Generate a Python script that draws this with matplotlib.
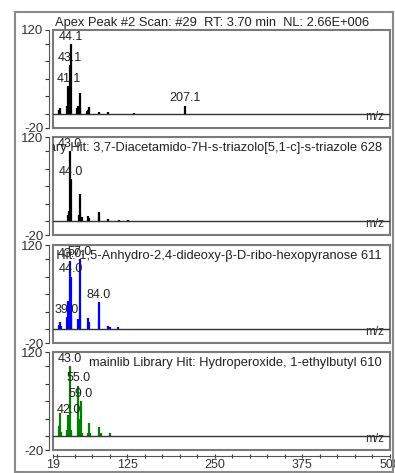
import matplotlib
matplotlib.use('Agg')
import matplotlib.pyplot as plt
from matplotlib.patches import Rectangle
from matplotlib.ticker import FixedLocator

plt.rcParams['font.family'] = ['Liberation Sans', 'DejaVu Sans']

# --- data: m/z and relative abundance for each spectrum ---
scan_mz = [27, 29, 39, 41, 42, 43, 44, 53, 55, 56, 57, 58, 67, 69, 71, 84, 98, 134, 207]
scan_int = [6, 9, 12, 40, 18, 70, 100, 8, 12, 10, 30, 8, 4, 5, 10, 3, 3, 2, 12]
scan_labels = [(41, '41.1'), (43, '43.1'), (44, '44.1'), (207, '207.1')]

hit1_mz = [15, 41, 42, 43, 44, 56, 57, 58, 60, 69, 70, 84, 85, 98, 113, 126]
hit1_int = [6, 8, 15, 100, 60, 8, 10, 38, 6, 7, 4, 13, 5, 3, 2, 2]
hit1_labels = [(43, '43.0'), (44, '44.0')]

hit2_mz = [27, 29, 31, 39, 41, 42, 43, 44, 45, 55, 57, 58, 69, 70, 84, 85, 97, 101, 112]
hit2_int = [6, 10, 5, 17, 40, 30, 97, 75, 20, 15, 100, 20, 16, 10, 38, 12, 4, 3, 3]
hit2_labels = [(39, '39.0'), (43, '43.0'), (44, '44.0'), (57, '57.0'), (84, '84.0')]

hit3_mz = [27, 29, 31, 39, 41, 42, 43, 44, 45, 55, 56, 57, 59, 60, 69, 71, 72, 85, 87, 101]
hit3_int = [15, 33, 6, 8, 30, 27, 100, 5, 8, 72, 10, 25, 50, 5, 5, 18, 4, 13, 4, 5]
hit3_labels = [(42, '42.0'), (43, '43.0'), (55, '55.0'), (59, '59.0')]

headers = [
    'Apex Peak #2 Scan: #29  RT: 3.70 min  NL: 2.66E+006',
    'mainlib Library Hit: 3,7-Diacetamido-7H-s-triazolo[5,1-c]-s-triazole 628',
    'mainlib Library Hit: 1,5-Anhydro-2,4-dideoxy-\u03b2-D-ribo-hexopyranose 611',
    'mainlib Library Hit: Hydroperoxide, 1-ethylbutyl 610',
]
colors = ['black', 'black', '#0000ff', '#008000']
spectra = [(scan_mz, scan_int, scan_labels), (hit1_mz, hit1_int, hit1_labels),
           (hit2_mz, hit2_int, hit2_labels), (hit3_mz, hit3_int, hit3_labels)]

x_ticks = [19, 125, 250, 375, 500]
x_minor = [25, 50, 75, 100, 150, 175, 200, 225, 275, 300, 325, 350, 400, 425, 450, 475]

W, H = 395, 473
fig = plt.figure(figsize=(W / 100, H / 100), dpi=100)

# outer frame
fig.patches.append(Rectangle((15 / W, 1 - 472 / H), 378 / W, 460 / H, transform=fig.transFigure,
                             fill=False, ec='#8a8a8a', lw=1.5))

box_gray = '#7a7a7a'
txt_col = '#222222'
tops = [30, 137, 245, 352]
for i, top in enumerate(tops):
    ax = fig.add_axes([53 / W, 1 - (top + 98) / H, 337 / W, 98 / H])
    mz, inten, labels = spectra[i]
    ax.vlines(mz, 0, inten, color=colors[i], lw=1.6)
    ax.axhline(0, color='#333333', lw=1.0)
    for m, txt in labels:
        ax.annotate(txt, (m, inten[mz.index(m)]), xytext=(0, 1), textcoords='offset points',
                    ha='center', va='bottom', fontsize=9, color=txt_col)
    ax.set_xlim(19, 500)
    ax.set_ylim(-20, 120)

    # panel box
    for s in ['top', 'right', 'bottom']:
        ax.spines[s].set_visible(False)
    ax.add_patch(Rectangle((0, 0), 1, 1, transform=ax.transAxes, fill=False,
                           ec=box_gray, lw=1.5, clip_on=False))
    ax.spines['left'].set_position(('outward', 3))
    ax.spines['left'].set_color('#555555')
    ax.set_yticks([-20, 120])
    ax.set_yticklabels(['-20', '120'])
    ax.yaxis.set_minor_locator(FixedLocator([0, 25, 50, 75, 100]))
    ax.tick_params(axis='y', which='both', labelsize=9.5, length=3, width=0.8,
                   colors='#333333', pad=1)

    # m/z tag sitting on the baseline
    ax.annotate('m/z', (1, 0), xycoords=('axes fraction', 'data'), xytext=(-4, -2),
                textcoords='offset points', ha='right', va='center', fontsize=8.5,
                color='#333333')

    if i == 0:
        ax.text(0.005, 1.01, headers[i], transform=ax.transAxes, ha='left', va='bottom',
                fontsize=9.3, color=txt_col)
    else:
        t = ax.text(0.976, 0.95, headers[i], transform=ax.transAxes, ha='right', va='top',
                    fontsize=9.3, color=txt_col)
        t.set_clip_on(True)

    if i == 3:
        ax.spines['bottom'].set_visible(True)
        ax.spines['bottom'].set_position(('outward', 4))
        ax.spines['bottom'].set_color('#555555')
        ax.set_xticks(x_ticks)
        ax.set_xticklabels([str(v) for v in x_ticks])
        ax.xaxis.set_minor_locator(FixedLocator(x_minor))
        ax.tick_params(axis='x', which='both', labelsize=9, length=3, width=0.8,
                       direction='inout', colors='#333333', pad=1)
    else:
        ax.set_xticks([])

fig.savefig('out.png', dpi=100)
